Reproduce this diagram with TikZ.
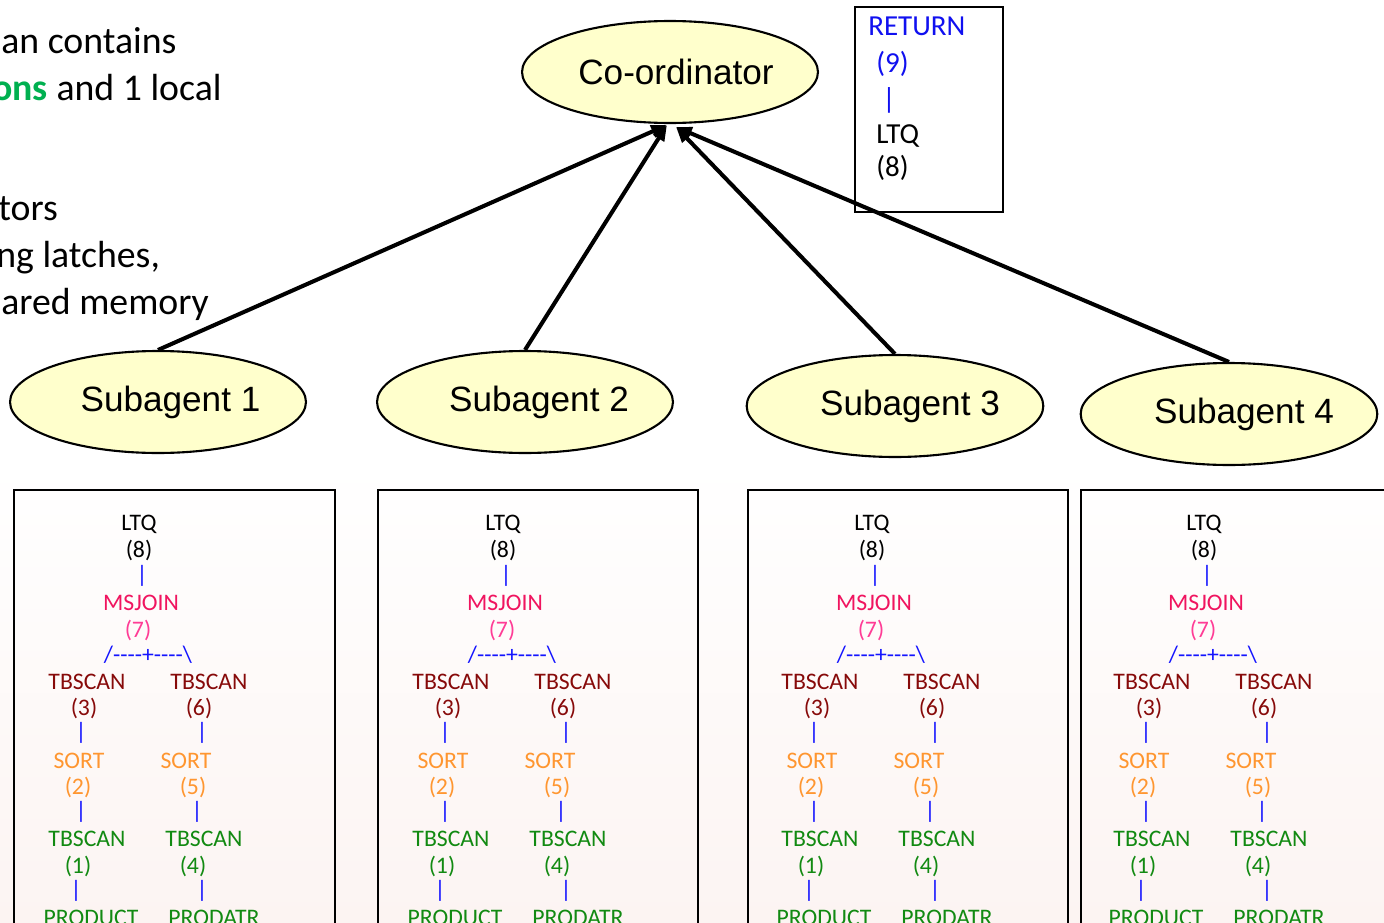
\documentclass[tikz,border=0pt]{standalone}
\usepackage{fontspec}
\setmainfont{Carlito}
\newfontfamily\planfont{Carlito}[Ligatures=TeXOff]
\newfontfamily\arialfont{Liberation Sans}
\usetikzlibrary{shapes.geometric,arrows.meta}

\definecolor{ellyellow}{HTML}{FFFFCC}
\definecolor{barblue}{HTML}{1414FF}
\definecolor{retblue}{HTML}{1010F0}
\definecolor{joinpink}{HTML}{F0145F}
\definecolor{joinpinklt}{HTML}{FF3C96}
\definecolor{scanred}{HTML}{870A0A}
\definecolor{sortorange}{HTML}{FF9630}
\definecolor{scangreen}{HTML}{128A12}
\definecolor{notegreen}{HTML}{00B050}
\definecolor{pagebottom}{HTML}{FCF4F2}

\tikzset{
  agent/.style={ellipse, draw, line width=1.2pt, fill=ellyellow,
    minimum width=5.92cm, minimum height=2.04cm, inner sep=0pt,
    font=\arialfont\fontsize{20}{24}\selectfont},
  conn/.style={line width=2.3pt, -{Triangle[length=9pt,width=7pt]}},
  note/.style={anchor=base west, inner sep=0pt, font=\fontsize{21.5}{26}\selectfont},
  rettext/.style={anchor=base west, inner sep=0pt, font=\fontsize{16.5}{20}\selectfont},
  plan/.style={anchor=base, inner sep=0pt, font=\planfont\fontsize{13.5}{16}\selectfont},
  planbar/.style={anchor=center, inner sep=0pt, text=barblue, font=\planfont\fontsize{13.5}{16}\selectfont},
  framebox/.style={draw, line width=1.5pt},
}

% label of an agent, set a little right of and below the ellipse centre
\newcommand\agentlabel[2]{\hspace*{#1}\raisebox{-0.12cm}{#2}}

% one access plan, placed relative to the first plan box
\newcommand\plantree{%
  \node[plan] (ltq) at (139,530) {LTQ};
  \node[plan] (n8) at (139,557) {(8)};
  \node[planbar] (bar1) at (142,576) {|};
  \node[plan, text=joinpink] (msj) at (141,610) {MSJOIN};
  \node[plan, text=joinpinklt] (n7) at (138,637) {(7)};
  \node[planbar] (fork) at (148,655) {/----+----\textbackslash};
  \node[plan, text=scanred] (tbl) at (87,689) {TBSCAN};
  \node[plan, text=scanred] (tbr) at (209,689) {TBSCAN};
  \node[plan, text=scanred] (n3) at (84,715) {(3)};
  \node[plan, text=scanred] (n6) at (199,715) {(6)};
  \node[planbar] (bar2l) at (81,733) {|};
  \node[planbar] (bar2r) at (202,733) {|};
  \node[plan, text=sortorange] (sortl) at (79,768) {SORT};
  \node[plan, text=sortorange] (sortr) at (186,768) {SORT};
  \node[plan, text=sortorange] (n2) at (78,794) {(2)};
  \node[plan, text=sortorange] (n5) at (193,794) {(5)};
  \node[planbar] (bar3l) at (81,812) {|};
  \node[planbar] (bar3r) at (197,812) {|};
  \node[plan, text=scangreen] (scl) at (87,846) {TBSCAN};
  \node[plan, text=scangreen] (scr) at (204,846) {TBSCAN};
  \node[plan, text=scangreen] (n1) at (78,873) {(1)};
  \node[plan, text=scangreen] (n4) at (193,873) {(4)};
  \node[planbar] (bar4l) at (76,891) {|};
  \node[planbar] (bar4r) at (202,891) {|};
  \node[plan, text=scangreen] (prodl) at (91,925) {PRODUCT};
  \node[plan, text=scangreen] (prodr) at (214,925) {PRODATR};
}

\begin{document}
\begin{tikzpicture}[x=0.02cm, y=-0.02cm]
\clip (0,0) rectangle (1384,923);
\shade[top color=white, bottom color=pagebottom, middle color=white] (0,0) rectangle (1384,923);

% explanatory text at the left
\node[note] (t1) at (1,53) {an contains};
\node[note] (t2) at (-8,100) {\textcolor{notegreen}{\bfseries ons} and 1 local};
\node[note] (t3) at (-2,220) {tors};
\node[note] (t4) at (-4,267) {ng latches,};
\node[note] (t5) at (1,314) {ared memory};

% coordinator and its operators
\node[agent] (coord) at (670,72) {\agentlabel{0.24cm}{Co-ordinator}};
\draw[line width=1.2pt] (855,7) rectangle (1003,212);
\node[rettext, text=retblue] (ret) at (868,35) {RETURN};
\node[rettext, text=retblue] (r9) at (876,72) {(9)};
\node[anchor=center, inner sep=0pt, text=retblue, font=\fontsize{16.5}{20}\selectfont] (rbar) at (889,100) {|};
\node[rettext] (rltq) at (876,143) {LTQ};
\node[rettext] (r8) at (876,176) {(8)};

% subagents
\node[agent] (s1) at (158,402) {\agentlabel{0.5cm}{Subagent 1}};
\node[agent] (s2) at (525,402) {\agentlabel{0.56cm}{Subagent 2}};
\node[agent] (s3) at (895,406) {\agentlabel{0.6cm}{Subagent 3}};
\node[agent] (s4) at (1229,414) {\agentlabel{0.6cm}{Subagent 4}};

\coordinate (tipL) at (667,125);
\coordinate (tipR) at (676,127);
\draw[conn] (s1.north) -- (tipL);
\draw[conn] (s2.north) -- (tipL);
\draw[conn] (s3.north) -- (tipR);
\draw[conn] (s4.north) -- (tipR);

% plan boxes
\draw[framebox] (14,490) rectangle (335,960);
\draw[framebox] (378,490) rectangle (698,960);
\draw[framebox] (748,490) rectangle (1068,960);
\draw[framebox] (1081,490) rectangle (1401,960);

\begin{scope}[name prefix=p1-]\plantree\end{scope}
\begin{scope}[shift={(364,0)}, name prefix=p2-]\plantree\end{scope}
\begin{scope}[shift={(733,0)}, name prefix=p3-]\plantree\end{scope}
\begin{scope}[shift={(1065,0)}, name prefix=p4-]\plantree\end{scope}
\end{tikzpicture}
\end{document}
